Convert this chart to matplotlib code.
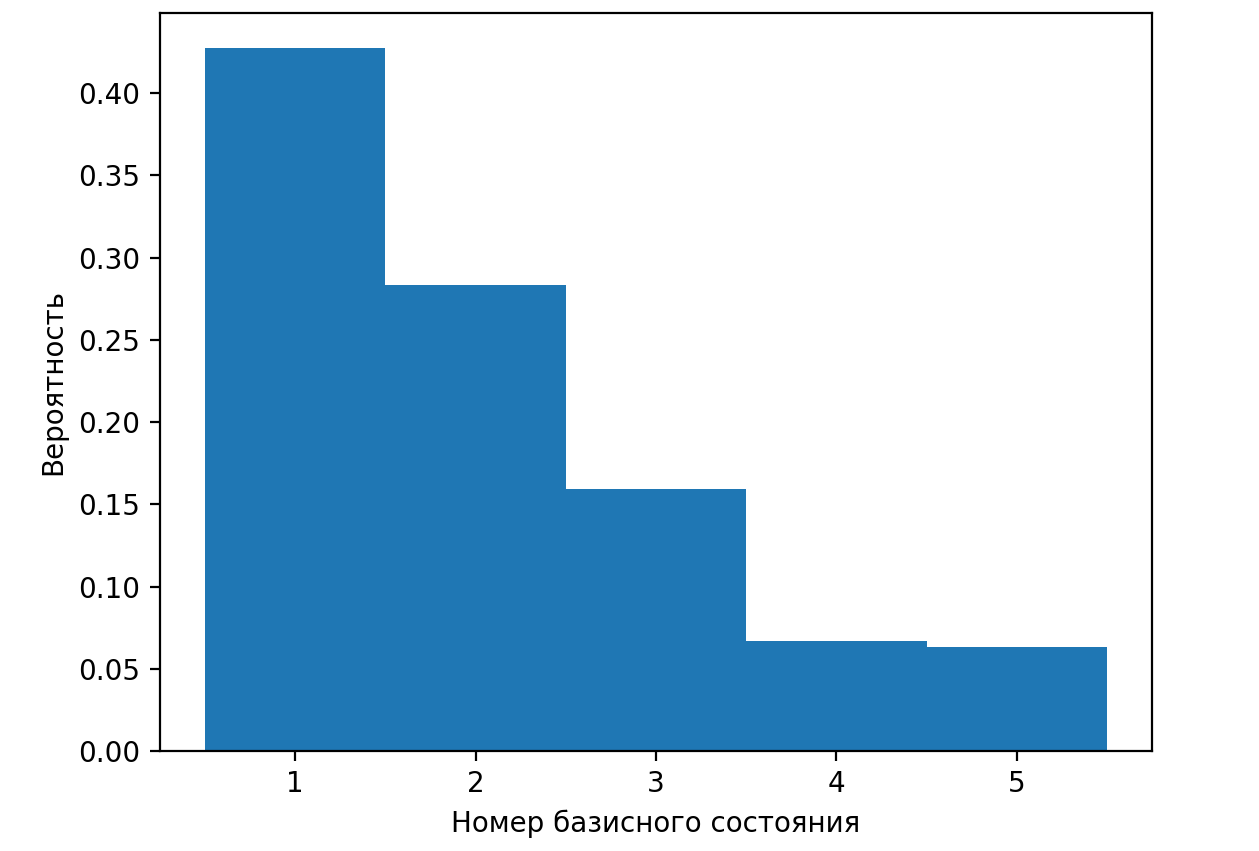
import matplotlib
matplotlib.use("Agg")
from matplotlib import pyplot as plt

states = [1, 2, 3, 4, 5]
probs = [0.4274, 0.2833, 0.1593, 0.0669, 0.0632]

fig = plt.figure(figsize=(1259 / 200, 851 / 200), dpi=200)
ax = fig.add_axes([0.127, 0.1175, 0.788, 0.8672])

ax.bar(states, probs, width=1.0, color="#1f77b4")
ax.set_xlabel("Номер базисного состояния")
ax.set_ylabel("Вероятность")

fig.savefig("out.png", dpi=200)
